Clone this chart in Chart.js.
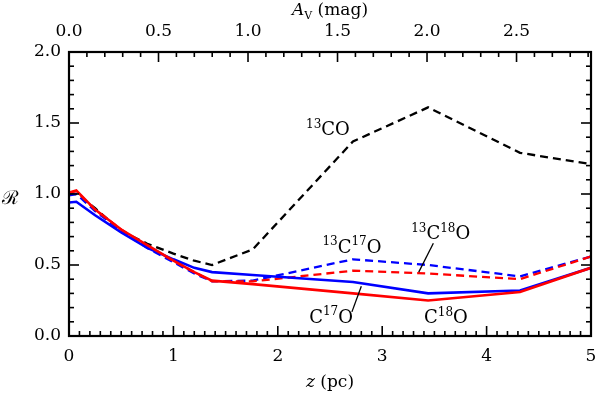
<!DOCTYPE html>
<html>
<head>
<meta charset="utf-8">
<script src="https://cdn.jsdelivr.net/npm/chart.js@4.4.0/dist/chart.umd.min.js"></script>
<style>
  body { margin: 0; background: #fff; }
  #wrap { width: 597px; height: 397px; position: relative; }
</style>
</head>
<body>
<div id="wrap"><canvas id="myChart"></canvas></div>
<script>
// distance z (pc) where the model values are read
const zPc = [0, 0.07, 0.25, 0.5, 0.75, 1.0, 1.2, 1.37, 1.76, 2.72, 3.44, 4.32, 5.0]
const r13CO   = [1.00, 1.00, 0.90, 0.74, 0.65, 0.58, 0.53, 0.50, 0.61, 1.37, 1.61, 1.29, 1.21]
const r13C17O = [0.99, 1.00, 0.88, 0.74, 0.62, 0.52, 0.44, 0.385, 0.39, 0.54, 0.50, 0.42, 0.56]
const r13C18O = [1.01, 1.02, 0.89, 0.75, 0.63, 0.53, 0.45, 0.385, 0.385, 0.46, 0.44, 0.40, 0.56]
const rC17O   = [0.94, 0.945, 0.85, 0.73, 0.62, 0.54, 0.48, 0.45, 0.43, 0.38, 0.30, 0.32, 0.48]
const rC18O   = [1.01, 1.025, 0.89, 0.75, 0.64, 0.53, 0.45, 0.39, 0.365, 0.30, 0.25, 0.31, 0.48]

const zTicks = [0, 1, 2, 3, 4, 5]
const avTicks = [0.0, 0.5, 1.0, 1.5, 2.0, 2.5]
const avMax = 2.916
const rTicks = [0.0, 0.5, 1.0, 1.5, 2.0]

// curve labels: [parts, z, R]
const curveLabels = [
  [[['13', 1], ['CO', 0]], 2.48, 1.415],
  [[['13', 1], ['C', 0], ['17', 1], ['O', 0]], 2.71, 0.587],
  [[['13', 1], ['C', 0], ['18', 1], ['O', 0]], 3.56, 0.68],
  [[['C', 0], ['17', 1], ['O', 0]], 2.51, 0.094],
  [[['C', 0], ['18', 1], ['O', 0]], 3.61, 0.092]
]
const leaders = [
  [3.49, 0.653, 3.35, 0.45],
  [2.80, 0.35, 2.71, 0.17]
]

const FONT = 'DejaVu Serif'
Chart.defaults.font.family = FONT
Chart.defaults.color = '#000'

function pts(ys) {
  return zPc.map((z, i) => ({ x: z, y: ys[i] }))
}

function drawRich(ctx, parts, cx, by, size) {
  const sub = Math.round(size * 0.66)
  let w = 0
  parts.forEach(p => {
    ctx.font = (p[1] ? sub : size) + 'px "' + FONT + '"'
    w += ctx.measureText(p[0]).width
  })
  let x = cx - w / 2
  ctx.textAlign = 'left'
  ctx.textBaseline = 'alphabetic'
  parts.forEach(p => {
    ctx.font = (p[1] ? sub : size) + 'px "' + FONT + '"'
    ctx.fillText(p[0], x, p[1] ? by - size * 0.4 : by)
    x += ctx.measureText(p[0]).width
  })
}

function line(ctx, x1, y1, x2, y2) {
  ctx.beginPath(); ctx.moveTo(x1, y1); ctx.lineTo(x2, y2); ctx.stroke()
}

const decor = {
  id: 'decor',
  afterDraw(chart) {
    const ctx = chart.ctx
    const a = chart.chartArea
    const sx = chart.scales.x, st = chart.scales.x2, sy = chart.scales.y
    ctx.save()
    ctx.strokeStyle = '#000'
    ctx.fillStyle = '#000'
    ctx.lineWidth = 1.6
    // inward ticks
    for (let i = 0; i <= 50; i++) {
      const px = sx.getPixelForValue(i / 10)
      const len = i % 10 === 0 ? 10 : 5
      line(ctx, px, a.bottom, px, a.bottom - len)
    }
    for (let i = 0; i <= 29; i++) {
      const px = st.getPixelForValue(i / 10)
      const len = i % 5 === 0 ? 10 : 5
      line(ctx, px, a.top, px, a.top + len)
    }
    for (let i = 0; i <= 20; i++) {
      const py = sy.getPixelForValue(i / 10)
      const len = i % 5 === 0 ? 10 : 5
      line(ctx, a.left, py, a.left + len, py)
      line(ctx, a.right, py, a.right - len, py)
    }
    // frame
    ctx.lineWidth = 2.2
    ctx.strokeRect(a.left, a.top, a.right - a.left, a.bottom - a.top)

    // axis titles
    ctx.textBaseline = 'alphabetic'
    ctx.font = 'italic 17px "' + FONT + '"'
    let w1 = ctx.measureText('z').width
    ctx.font = '17px "' + FONT + '"'
    let w2 = ctx.measureText(' (pc)').width
    let x0 = (a.left + a.right) / 2 - (w1 + w2) / 2
    ctx.textAlign = 'left'
    ctx.font = 'italic 17px "' + FONT + '"'
    ctx.fillText('z', x0, 387)
    ctx.font = '17px "' + FONT + '"'
    ctx.fillText(' (pc)', x0 + w1, 387)

    ctx.font = 'italic 17px "' + FONT + '"'
    w1 = ctx.measureText('A').width
    ctx.font = '11px "' + FONT + '"'
    const wv = ctx.measureText('V').width
    ctx.font = '17px "' + FONT + '"'
    w2 = ctx.measureText(' (mag)').width
    x0 = (a.left + a.right) / 2 - (w1 + wv + w2) / 2
    ctx.font = 'italic 17px "' + FONT + '"'
    ctx.fillText('A', x0, 15)
    ctx.font = '11px "' + FONT + '"'
    ctx.fillText('V', x0 + w1, 19)
    ctx.font = '17px "' + FONT + '"'
    ctx.fillText(' (mag)', x0 + w1 + wv, 15)

    ctx.font = '19px "' + FONT + '"'
    ctx.textAlign = 'center'
    ctx.fillText('\u211B', 10, 204)

    // curve labels and leader lines
    curveLabels.forEach(l => {
      drawRich(ctx, l[0], sx.getPixelForValue(l[1]), sy.getPixelForValue(l[2]), 18)
    })
    ctx.lineWidth = 1.3
    leaders.forEach(l => {
      line(ctx, sx.getPixelForValue(l[0]), sy.getPixelForValue(l[1]),
        sx.getPixelForValue(l[2]), sy.getPixelForValue(l[3]))
    })
    ctx.restore()
  }
}

function fixH(h) {
  return s => { s.height = h; s.paddingLeft = 0; s.paddingRight = 0 }
}
function fixW(w) {
  return s => { s.width = w; s.paddingTop = 0; s.paddingBottom = 0 }
}

const ctx = document.getElementById('myChart')
const myChart = new Chart(ctx, {
  type: 'line',
  data: {
    datasets: [{
      data: pts(rC18O), borderColor: '#ff0000', borderWidth: 2.6, order: 0
    }, {
      data: pts(rC17O), borderColor: '#0000ff', borderWidth: 2.6, order: 1
    }, {
      data: pts(r13C18O), borderColor: '#ff0000', borderWidth: 2.3, borderDash: [8, 5], order: 2
    }, {
      data: pts(r13C17O), borderColor: '#0000ff', borderWidth: 2.3, borderDash: [8, 5], order: 3
    }, {
      data: pts(r13CO), borderColor: '#000000', borderWidth: 2.3, borderDash: [8, 5], order: 4
    }]
  },
  options: {
    responsive: true,
    maintainAspectRatio: false,
    animation: false,
    layout: { padding: 0 },
    elements: { point: { radius: 0 }, line: { tension: 0, fill: false } },
    plugins: { legend: { display: false }, tooltip: { enabled: false } },
    scales: {
      x: {
        type: 'linear', position: 'bottom', min: 0, max: 5,
        afterFit: fixH(61),
        afterBuildTicks: s => { s.ticks = zTicks.map(v => ({ value: v })) },
        ticks: { font: { size: 17 }, padding: 10, maxRotation: 0, color: '#000' },
        grid: { drawOnChartArea: false, drawTicks: false },
        border: { display: false }
      },
      x2: {
        type: 'linear', position: 'top', min: 0, max: avMax,
        afterFit: fixH(52),
        afterBuildTicks: s => { s.ticks = avTicks.map(v => ({ value: v })) },
        ticks: { font: { size: 17 }, padding: 10, maxRotation: 0, color: '#000', callback: v => v.toFixed(1) },
        grid: { drawOnChartArea: false, drawTicks: false },
        border: { display: false }
      },
      y: {
        type: 'linear', position: 'left', min: 0, max: 2,
        afterFit: fixW(69),
        afterBuildTicks: s => { s.ticks = rTicks.map(v => ({ value: v })) },
        ticks: { font: { size: 17 }, padding: 8, color: '#000', callback: v => v.toFixed(1) },
        grid: { drawOnChartArea: false, drawTicks: false },
        border: { display: false }
      },
      y2: {
        type: 'linear', position: 'right', min: 0, max: 2,
        afterFit: fixW(6),
        ticks: { display: false },
        grid: { drawOnChartArea: false, drawTicks: false },
        border: { display: false }
      }
    }
  },
  plugins: [decor]
})
</script>
</body>
</html>
